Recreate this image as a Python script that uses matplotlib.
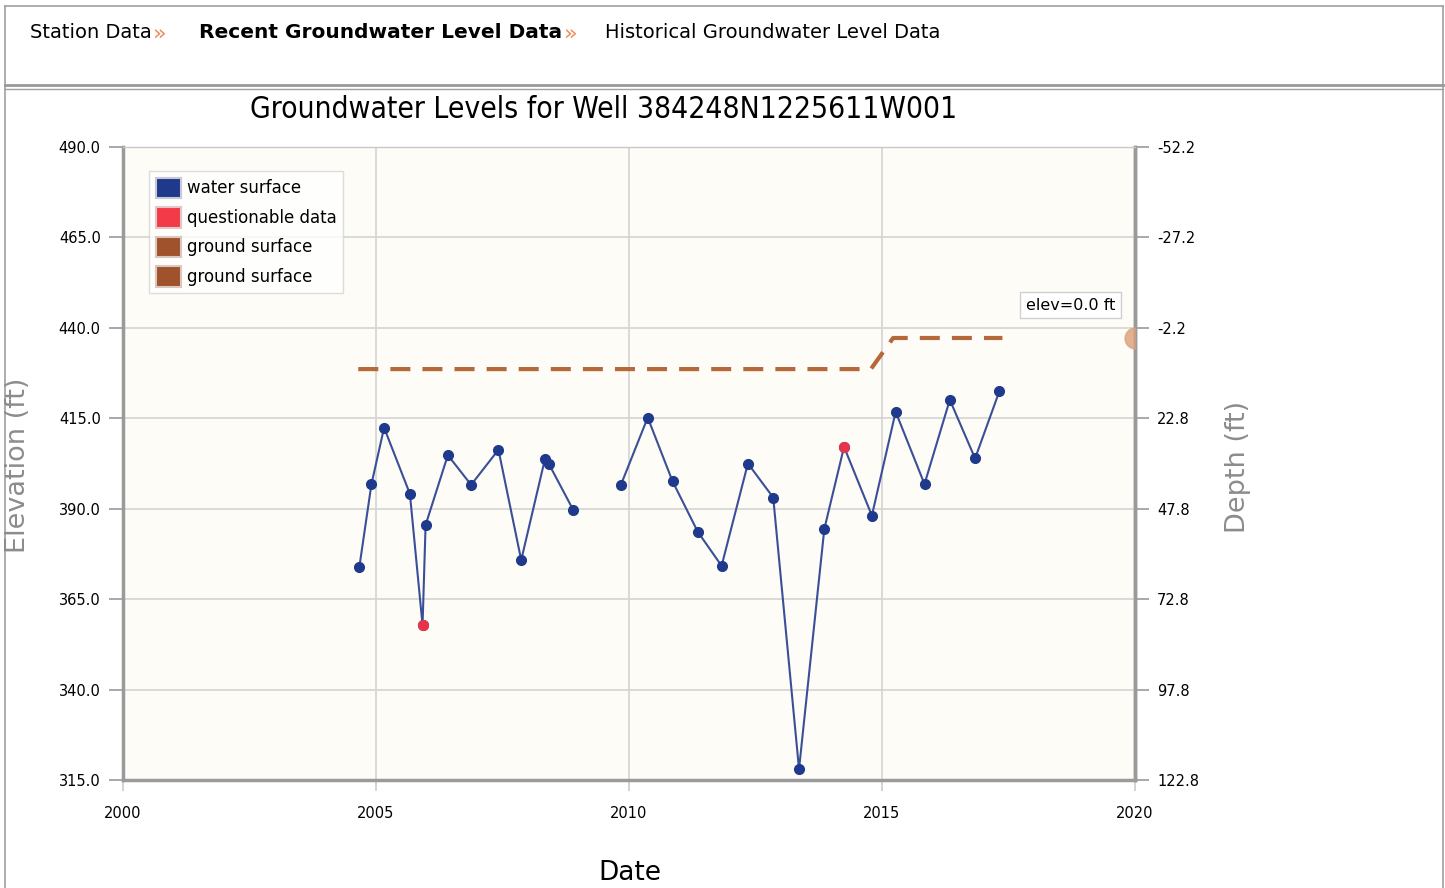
import matplotlib
matplotlib.use("Agg")
from matplotlib import pyplot as plt
from matplotlib.patches import Patch
from matplotlib.lines import Line2D

plt.rcParams['font.family'] = ['DejaVu Sans']

# water surface readings (decimal year, elevation ft)
water_years = [2004.67, 2004.91, 2005.16, 2005.67, 2005.92, 2005.98, 2006.42, 2006.88,
               2007.42, 2007.87, 2008.34, 2008.42, 2008.90]
water_elev = [373.8, 396.8, 412.4, 394.1, 357.8, 385.5, 404.8, 396.6,
              406.3, 375.8, 403.8, 402.3, 389.6]
water_years2 = [2009.84, 2010.37, 2010.86, 2011.36, 2011.83, 2012.35, 2012.85, 2013.36,
                2013.86, 2014.25, 2014.80, 2015.27, 2015.84, 2016.34, 2016.84, 2017.32]
water_elev2 = [396.6, 415.2, 397.6, 383.6, 374.2, 402.5, 393.1, 318.0,
               384.4, 407.1, 388.1, 416.8, 396.8, 420.1, 403.9, 422.5]

# questionable readings
quest_years = [2005.92, 2014.25]
quest_elev = [357.8, 407.1]

# ground surface elevation
ground_years = [2004.65, 2014.78, 2015.22, 2017.38]
ground_elev = [428.6, 428.6, 437.2, 437.2]

ref_elev = 437.8
elev_ticks = [315.0, 340.0, 365.0, 390.0, 415.0, 440.0, 465.0, 490.0]
year_ticks = [2000, 2005, 2010, 2015, 2020]

W, H = 1445, 888
fig = plt.figure(figsize=(W / 100, H / 100), dpi=100)


def fx(px):
    return px / W


def fy(py):
    return 1 - py / H


# page frame
border = '#a0a0a0'
fig.add_artist(Line2D([fx(5), fx(1443)], [fy(6), fy(6)], color=border, lw=1.2))
fig.add_artist(Line2D([fx(5), fx(5)], [fy(6), fy(888)], color=border, lw=1.2))
fig.add_artist(Line2D([fx(1443), fx(1443)], [fy(6), fy(888)], color=border, lw=1.2))
fig.add_artist(Line2D([fx(5), fx(1443)], [fy(85), fy(85)], color='#999999', lw=2))
fig.add_artist(Line2D([fx(5), fx(1443)], [fy(89), fy(89)], color=border, lw=1))

# navigation
fig.text(fx(30), fy(33), 'Station Data', fontsize=14, va='center', ha='left')
fig.text(fx(153), fy(33), '»', fontsize=16, va='center', ha='left', color='#ef8b5a')
fig.text(fx(199), fy(33), 'Recent Groundwater Level Data', fontsize=14.5, fontweight='bold',
         va='center', ha='left')
fig.text(fx(564), fy(33), '»', fontsize=16, va='center', ha='left', color='#ef8b5a')
fig.text(fx(605), fy(33), 'Historical Groundwater Level Data', fontsize=14, va='center', ha='left')

ax = fig.add_axes([fx(123), fy(780), fx(1135) - fx(123), fy(147) - fy(780)])
ax.set_facecolor('#fdfcf6')

ax.plot(ground_years, ground_elev, color='#b5683a', lw=3, dashes=(4.8, 2.9), zorder=3)
ax.plot(water_years, water_elev, color='#3b4f98', lw=1.5, marker='o', ms=7,
        mfc='#1f3a8c', mec='#1f3a8c', zorder=4)
ax.plot(water_years2, water_elev2, color='#3b4f98', lw=1.5, marker='o', ms=7,
        mfc='#1f3a8c', mec='#1f3a8c', zorder=4)
ax.plot(quest_years, quest_elev, ls='none', marker='o', ms=7, mfc='#e8334a',
        mec='#e8334a', zorder=5)
ax.plot([2020], [ground_elev[-1]], ls='none', marker='o', ms=15, mfc='#d9a07a',
        mec='#d9a07a', alpha=0.8, zorder=5)

ax.set_xlim(2000, 2020)
ax.set_ylim(315, 490)
ax.set_xticks(year_ticks)
ax.set_yticks(elev_ticks)
ax.set_yticklabels([f'{v:.1f}' for v in elev_ticks])
ax.grid(True, color='#d4d4d4', lw=1.2)
ax.set_axisbelow(True)
ax.tick_params(axis='y', direction='out', length=10, width=1.2, color='#999999',
               labelsize=10.5, pad=6)
ax.tick_params(axis='x', direction='out', length=8, width=1.2, color='#cccccc',
               labelsize=10.5, pad=11)

for side in ['left', 'bottom', 'right']:
    ax.spines[side].set_color('#9a9a9a')
    ax.spines[side].set_linewidth(2.5)
ax.spines['top'].set_color('#c8c8c8')
ax.spines['top'].set_linewidth(1)

sec = ax.secondary_yaxis('right', functions=(lambda e: ref_elev - e, lambda d: ref_elev - d))
sec.set_yticks([ref_elev - v for v in elev_ticks])
sec.set_yticklabels([f'{ref_elev - v:.1f}' for v in elev_ticks])
sec.tick_params(direction='out', length=10, width=1.2, color='#999999', labelsize=10.5, pad=6)
sec.spines['right'].set_color('#9a9a9a')
sec.spines['right'].set_linewidth(2.5)

ax.text(0.936, 0.750, 'elev=0.0 ft', transform=ax.transAxes, fontsize=11.5,
        ha='center', va='center',
        bbox=dict(boxstyle='square,pad=0.35', fc='white', ec='#d0d0d0', lw=1))

handles = [Patch(fc='#1f3a8c', ec='#c8c8d8', lw=1.5, label='water surface'),
           Patch(fc='#f23a48', ec='#e0c8c8', lw=1.5, label='questionable data'),
           Patch(fc='#a0522d', ec='#d8c8c0', lw=1.5, label='ground surface'),
           Patch(fc='#a0522d', ec='#d8c8c0', lw=1.5, label='ground surface')]
leg = ax.legend(handles=handles, loc='upper left', bbox_to_anchor=(0.026, 0.962),
                fontsize=12, frameon=True, fancybox=False, edgecolor='#d4d4d4',
                handlelength=1.5, handleheight=1.5, handletextpad=0.35,
                labelspacing=0.55, borderpad=0.4, borderaxespad=0)
leg.get_frame().set_linewidth(1)

fig.text(fx(604), fy(110), 'Groundwater Levels for Well 384248N1225611W001', fontsize=21.5,
         ha='center', va='center', fontstretch='condensed')
fig.text(fx(18), fy(465), 'Elevation (ft)', fontsize=19.5, color='#8c8c8c', rotation=90,
         ha='center', va='center')
fig.text(fx(1238), fy(467), 'Depth (ft)', fontsize=19.5, color='#8c8c8c', rotation=90,
         ha='center', va='center')
fig.text(fx(630), fy(873), 'Date', fontsize=19, ha='center', va='center')

fig.savefig('out.png', dpi=100)
